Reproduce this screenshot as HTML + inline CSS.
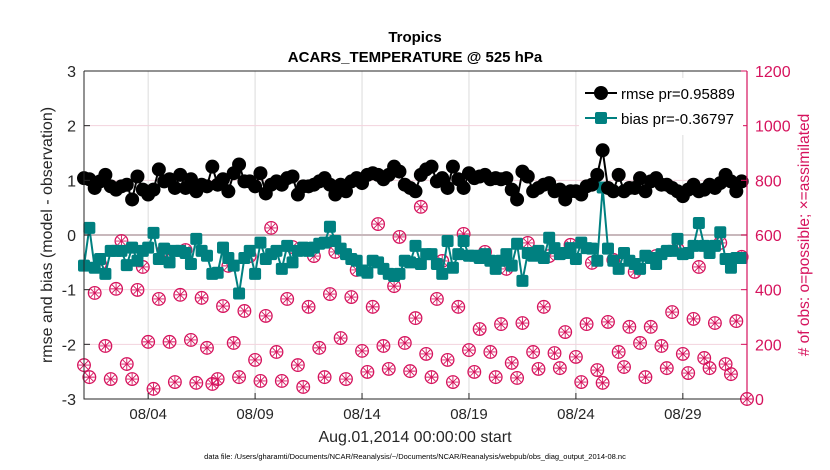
<!DOCTYPE html>
<html><head><meta charset="utf-8"><style>
body{margin:0;background:#fff;font-family:"Liberation Sans",sans-serif}
svg{display:block}
</style></head><body>
<svg id="c" width="830" height="470" xmlns="http://www.w3.org/2000/svg"></svg>
<script>
const rmse=[1.04,1.02,0.86,0.98,1.1,0.89,0.83,0.89,0.92,0.65,1.07,0.83,0.74,0.83,1.2,0.98,1.02,0.86,1.1,0.86,1.02,0.8,0.92,0.89,1.25,0.92,1.02,0.8,1.13,1.29,0.98,
0.98,0.89,1.13,0.76,0.92,0.98,0.92,1.04,1.07,0.74,0.89,0.89,0.92,0.98,1.04,0.92,0.74,0.92,0.8,0.98,1.04,0.95,1.1,1.13,1.1,1.02,1.1,1.25,1.16,0.92,0.86,0.8,
1.1,1.2,1.25,0.98,1.04,0.86,1.25,1.02,0.86,1.13,1.04,1.07,1.1,1.02,1.04,1.02,1.04,0.83,0.65,1.16,1.07,0.8,0.86,0.92,0.95,0.8,0.83,0.65,0.8,0.8,
0.74,0.89,0.92,1.1,1.55,0.86,0.8,1.1,0.8,0.86,0.86,1.04,0.8,0.98,1.04,0.92,0.92,0.86,0.8,0.71,0.83,0.92,0.8,0.83,0.92,0.86,0.95,1.1,0.98,0.8,0.98];
const bias=[-0.56,0.13,-0.6,-0.44,-0.71,-0.29,-0.29,-0.29,-0.55,-0.23,-0.47,-0.29,-0.23,0.04,-0.44,-0.25,-0.5,-0.29,-0.29,-0.33,-0.53,-0.07,-0.29,-0.38,-0.71,-0.69,-0.23,-0.42,-0.56,-1.07,-0.42,
-0.29,-0.71,-0.14,-0.44,-0.35,-0.29,-0.62,-0.2,-0.5,-0.29,-0.23,-0.29,-0.23,-0.16,-0.14,0.15,-0.11,-0.25,-0.35,-0.44,-0.47,-0.65,-0.69,-0.47,-0.5,-0.62,-0.71,-0.75,-0.71,-0.47,-0.5,-0.2,
-0.53,-0.35,-0.35,-0.53,-0.71,-0.11,-0.6,-0.35,-0.11,-0.38,-0.38,-0.42,-0.35,-0.47,-0.62,-0.47,-0.35,-0.56,-0.16,-0.84,-0.33,-0.38,-0.29,-0.42,-0.05,-0.24,-0.35,-0.33,-0.24,-0.44,
-0.14,-0.24,-0.25,-0.47,0.87,-0.25,-0.47,-0.62,-0.33,-0.47,-0.53,-0.62,-0.38,-0.42,-0.53,-0.35,-0.29,-0.29,-0.07,-0.35,-0.33,-0.2,0.22,-0.2,-0.33,-0.2,0.05,-0.44,-0.6,-0.42,-0.42];
const obs=[124,80,388,494,194,73,403,578,128,73,399,483,209,37,366,545,209,62,381,545,216,59,370,187,55,73,340,487,205,80,322,523,143,
66,304,626,172,66,366,556,124,44,337,523,187,80,384,538,223,73,373,472,176,99,337,640,194,110,413,593,205,102,296,
703,165,80,366,505,143,62,337,604,179,99,256,538,172,80,274,476,132,77,278,571,172,110,337,523,168,113,245,564,154,62,
274,498,106,59,282,509,172,117,264,465,205,80,264,523,194,113,318,549,165,95,293,483,150,113,278,571,128,91,285,520,0];
const leftTicks=[-3,-2,-1,0,1,2,3];
const rightTicks=[0,200,400,600,800,1000,1200];
const dateDays=[3,8,13,18,23,28];
const dateLabels=["08/04","08/09","08/14","08/19","08/24","08/29"];

const X0=84,X1=747,Y0=71,Y1=399,PINK="#d6135d",TEAL="#008080";
const xDay=d=>X0+(X1-X0)*d/31;
const xIdx=i=>xDay(i*0.25);
const yL=v=>Y1-(v+3)/6*(Y1-Y0);
const yR=v=>Y1-v/1200*(Y1-Y0);
const svg=document.getElementById('c');
function mk(t,a,p){const e=document.createElementNS('http://www.w3.org/2000/svg',t);for(const k in a)e.setAttribute(k,a[k]);(p||svg).appendChild(e);return e;}
function txt(s,a,p){const e=mk('text',a,p);e.textContent=s;return e;}

const grid=mk('g',{});


dateDays.forEach(d=>mk('line',{x1:xDay(d),x2:xDay(d),y1:Y0,y2:Y1,stroke:'#dcdcdc','stroke-width':1},grid));
rightTicks.forEach(v=>mk('line',{x1:X0,x2:X1,y1:yR(v),y2:yR(v),stroke:'#f3d3dd','stroke-width':1},grid));
mk('line',{x1:X0,x2:X1,y1:yL(0),y2:yL(0),stroke:'#c8b8bc','stroke-width':2},grid);

const og=mk('g',{});


obs.forEach((v,i)=>{
  const g=mk('g',{transform:`translate(${xIdx(i)},${yR(v)})`,stroke:PINK,fill:'none'},og);
  
  
  mk('circle',{r:6.3,'stroke-width':1.3},g);
  mk('path',{d:'M-5.5 0H5.5M0 -5.5V5.5M-3.9 -3.9L3.9 3.9M-3.9 3.9L3.9 -3.9','stroke-width':0.9},g);
});

const bg=mk('g',{});


mk('polyline',{points:bias.map((v,i)=>xIdx(i)+','+yL(v)).join(' '),fill:'none',stroke:TEAL,'stroke-width':2},bg);
bias.forEach((v,i)=>{const r=mk('rect',{x:xIdx(i)-6,y:yL(v)-6,width:12,height:12,rx:2,fill:TEAL},bg);
  
  });

const rg=mk('g',{});


mk('polyline',{points:rmse.map((v,i)=>xIdx(i)+','+yL(v)).join(' '),fill:'none',stroke:'#000','stroke-width':2},rg);
rmse.forEach((v,i)=>{const c=mk('circle',{cx:xIdx(i),cy:yL(v),r:7,fill:'#000'},rg);
  
  });

mk('path',{d:`M${X0} ${Y0}H${X1}M${X0} ${Y0}V${Y1}H${X1}`,stroke:'#262626','stroke-width':1,fill:'none'});
mk('line',{x1:X1,x2:X1,y1:Y0,y2:Y1,stroke:PINK,'stroke-width':1.2});
leftTicks.forEach(v=>{mk('line',{x1:X0,x2:X0+6,y1:yL(v),y2:yL(v),stroke:'#262626'});
  const t=txt(v,{x:X0-8,y:yL(v)+6,'font-size':16,'text-anchor':'end',fill:'#262626'});
  
  });
rightTicks.forEach(v=>{mk('line',{x1:X1-6,x2:X1,y1:yR(v),y2:yR(v),stroke:PINK});
  const t=txt(v,{x:X1+8,y:yR(v)+6,'font-size':16,fill:PINK});
  
  });
dateDays.forEach((d,i)=>{mk('line',{x1:xDay(d),x2:xDay(d),y1:Y1,y2:Y1-6,stroke:'#262626'});
  const t=txt(dateLabels[i],{x:xDay(d),y:Y1+20,'font-size':15,'text-anchor':'middle',fill:'#262626'});
  
  });
</script>
<svg style="position:absolute;left:0;top:0" width="830" height="470">
<text x="415" y="42" font-size="15" font-weight="bold" text-anchor="middle" fill="#000">Tropics</text>
<text x="415" y="62" font-size="15" font-weight="bold" text-anchor="middle" fill="#000">ACARS_TEMPERATURE @ 525 hPa</text>
<text x="415" y="442" font-size="16" text-anchor="middle" fill="#262626">Aug.01,2014 00:00:00 start</text>
<text x="415" y="459" font-size="7.5" text-anchor="middle" fill="#000">data file: /Users/gharamti/Documents/NCAR/Reanalysis/~/Documents/NCAR/Reanalysis/webpub/obs_diag_output_2014-08.nc</text>
<text transform="translate(52,235) rotate(-90)" font-size="16" text-anchor="middle" fill="#262626">rmse and bias (model - observation)</text>
<text transform="translate(809,235) rotate(-90)" font-size="15.5" text-anchor="middle" fill="#d6135d"># of obs: o=possible; ×=assimilated</text>
<g>
<rect x="579" y="78" width="164" height="57" fill="#fff" stroke="none"/>
<line x1="585" y1="93" x2="617" y2="93" stroke="#000" stroke-width="2"/>
<circle cx="601" cy="93" r="7" fill="#000"/>
<text x="621" y="99" font-size="15" fill="#000">rmse pr=0.95889</text>
<line x1="585" y1="118" x2="617" y2="118" stroke="#008080" stroke-width="2"/>
<rect x="595" y="112" width="12" height="12" rx="2" fill="#008080"/>
<text x="621" y="124" font-size="15" fill="#000">bias pr=-0.36797</text>
</g>
</svg>
</body></html>
